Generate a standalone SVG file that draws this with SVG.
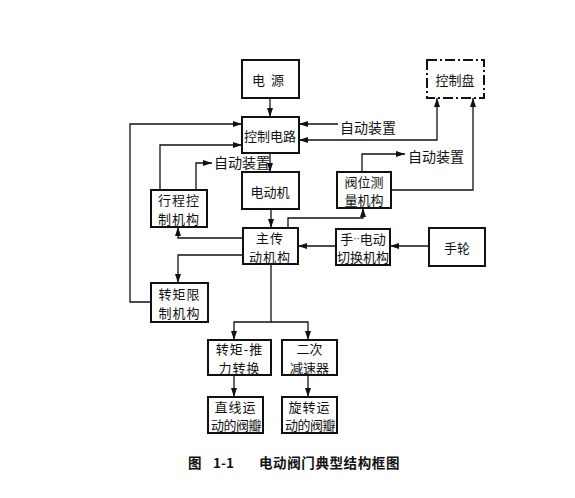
<svg xmlns="http://www.w3.org/2000/svg" width="575" height="498" viewBox="0 0 575 498">
<style>
.b{fill:#fff;stroke:#111;stroke-width:2}
.d{fill:#fff;stroke:#111;stroke-width:2;stroke-dasharray:10,3,2,3}
.t{font-family:"Noto Sans CJK SC","Noto Sans CJK JP",sans-serif;font-size:13px;fill:#111;text-anchor:middle;dominant-baseline:central}
.l{font-family:"Noto Sans CJK SC","Noto Sans CJK JP",sans-serif;font-size:14px;fill:#111;dominant-baseline:central}
.c{fill:none;stroke:#111;stroke-width:1.3}
.cap{font-family:"Noto Sans CJK SC","Noto Sans CJK JP",sans-serif;font-size:13.5px;font-weight:bold;fill:#111;dominant-baseline:central}
</style>
<defs>
<marker id="a" markerUnits="userSpaceOnUse" markerWidth="9" markerHeight="6" refX="9" refY="3" orient="auto-start-reverse">
<path d="M0,0 L9,3 L0,6 z" fill="#111"/>
</marker>
</defs>
<rect width="575" height="498" fill="#fff"/>
<g id="connectors">
<path class="c" d="M270,98 V117" marker-end="url(#a)"/>
<path class="c" d="M270,153 V172" marker-end="url(#a)"/>
<path class="c" d="M271,209 V228" marker-end="url(#a)"/>
<path class="c" d="M151,302 H130 V124 H242" marker-end="url(#a)"/>
<path class="c" d="M160,190 V145 H242" marker-end="url(#a)"/>
<path class="c" d="M196,190 V163 H212" marker-end="url(#a)"/>
<path class="c" d="M338,124 H299" marker-end="url(#a)"/>
<path class="c" d="M299,140 H437 V98" marker-start="url(#a)" marker-end="url(#a)"/>
<path class="c" d="M391,190 H473 V98" marker-end="url(#a)"/>
<path class="c" d="M362,172 V154 H405" marker-end="url(#a)"/>
<path class="c" d="M288,228 V218 H363 V208" marker-end="url(#a)"/>
<path class="c" d="M429,246 H390" marker-end="url(#a)"/>
<path class="c" d="M336,246 H298" marker-end="url(#a)"/>
<path class="c" d="M243,238 H178 V227" marker-end="url(#a)"/>
<path class="c" d="M243,255 H178 V283" marker-end="url(#a)"/>
<path class="c" d="M271,264 V322 H234 V340" marker-end="url(#a)"/>
<path class="c" d="M271,322 H308 V340" marker-end="url(#a)"/>
<path class="c" d="M234,375 V397" marker-end="url(#a)"/>
<path class="c" d="M308,375 V397" marker-end="url(#a)"/>
</g>
<g id="labels">
<text class="l" x="340" y="127">自动装置</text>
<text class="l" x="408" y="156">自动装置</text>
<text class="l" x="214" y="162">自动装置</text>
</g>
<g id="n_power"><rect class="b" x="242" y="60" width="57" height="38"/><text class="t" x="271" y="79" font-size="16" letter-spacing="6">电源</text></g>
<g id="n_panel"><rect class="d" x="427" y="60" width="57" height="38"/><text class="t" x="455" y="79" font-size="15">控制盘</text></g>
<g id="n_ctrl"><rect class="b" x="242" y="117" width="57" height="36"/><text class="t" x="270" y="135" font-size="13.5">控制电路</text></g>
<g id="n_motor"><rect class="b" x="242" y="172" width="57" height="37"/><text class="t" x="270" y="191" font-size="15">电动机</text></g>
<g id="n_travel"><rect class="b" x="151" y="190" width="56" height="37"/><text class="t" x="179" y="199.5" letter-spacing="1">行程控<tspan x="179" dy="18">制机构</tspan></text></g>
<g id="n_pos"><rect class="b" x="337" y="172" width="54" height="36"/><text class="t" x="364" y="181">阀位测<tspan x="364" dy="18">量机构</tspan></text></g>
<g id="n_main"><rect class="b" x="243" y="228" width="55" height="36"/><text class="t" x="270" y="237.5" letter-spacing="1">主传<tspan x="270" dy="18">动机构</tspan></text></g>
<g id="n_switch"><rect class="b" x="336" y="229" width="54" height="36"/><text class="t" x="363" y="238">手<tspan font-family="Liberation Sans,sans-serif" font-size="10">··</tspan>电动<tspan x="363" dy="18">切换机构</tspan></text></g>
<g id="n_wheel"><rect class="b" x="429" y="228" width="56" height="38"/><text class="t" x="457" y="247" font-size="15">手轮</text></g>
<g id="n_torque"><rect class="b" x="151" y="283" width="57" height="39"/><text class="t" x="179.5" y="293.5" letter-spacing="1">转矩限<tspan x="179.5" dy="18">制机构</tspan></text></g>
<g id="n_conv"><rect class="b" x="208" y="340" width="63" height="35"/><text class="t" x="239.5" y="348.5" letter-spacing="1">转矩<tspan font-family="Liberation Sans,sans-serif">-</tspan>推<tspan x="239.5" dy="18">力转换</tspan></text></g>
<g id="n_red"><rect class="b" x="282" y="340" width="55" height="35"/><text class="t" x="309.5" y="348.5">二次<tspan x="309.5" dy="18">减速器</tspan></text></g>
<g id="n_lin"><rect class="b" x="208" y="397" width="55" height="36"/><text class="t" x="235.5" y="406" letter-spacing="1">直线运<tspan x="236" dy="18" letter-spacing="-0.5">动的阀瓣</tspan></text></g>
<g id="n_rot"><rect class="b" x="282" y="397" width="55" height="36"/><text class="t" x="309.5" y="406" letter-spacing="1">旋转运<tspan x="310" dy="18" letter-spacing="-0.5">动的阀瓣</tspan></text></g>
<g id="caption"><text class="cap" x="188" y="462">图</text><text class="cap" x="213" y="462">1-1</text><text class="cap" x="259" y="462" letter-spacing="0.6">电动阀门典型结构框图</text></g>
</svg>
